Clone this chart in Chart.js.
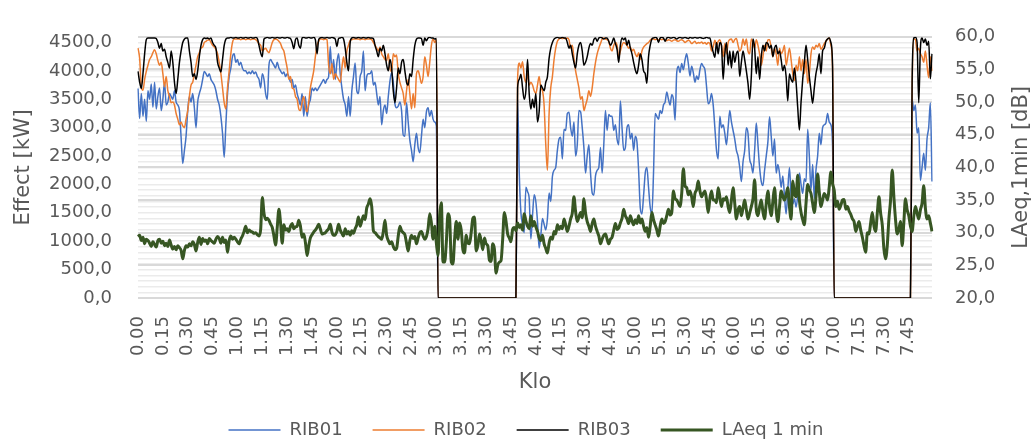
<!DOCTYPE html>
<html>
<head>
<meta charset="utf-8">
<title>Effect och LAeq</title>
<script src="https://cdn.jsdelivr.net/npm/chart.js@4.4.1/dist/chart.umd.min.js"></script>
<style>
  html, body { margin: 0; padding: 0; background: #ffffff; }
  #wrap { width: 1034px; height: 439px; position: relative; }
</style>
</head>
<body>
<div id="wrap"><canvas id="chart"></canvas></div>
<script>
// Time axis labels shown every 15 minutes
const tickLabels = ['0.00','0.15','0.30','0.45','1.00','1.15','1.30','1.45',
  '2.00','2.15','2.30','2.45','3.00','3.15','3.30','3.45',
  '4.00','4.15','4.30','4.45','5.00','5.15','5.30','5.45',
  '6.00','6.15','6.30','6.45','7.00','7.15','7.30','7.45'];

// One category per minute, 0.00 - 7.59
const categories = [];
for (let h = 0; h < 8; h++) {
  for (let m = 0; m < 60; m++) categories.push(h + '.' + String(m).padStart(2, '0'));
}

// Effect per minute [kW], one row = 15 minutes
const rib01 = [
  3690,3160,3600,3200,3500,3110,3650,3500,3770,3360,3800,3330,3550,3700,3300,
  3500,3800,3400,3450,3600,3550,3500,3650,3450,3400,3300,2830,2370,2600,2850,
  3300,3550,3450,3600,3350,3000,3450,3600,3700,3850,3990,3950,3900,3950,3850,
  3800,3750,3650,3500,3400,3200,2900,2480,3050,3600,3900,4050,4250,4300,4150,
  4200,4100,4150,4050,4000,4000,3950,3980,3950,4000,3950,3980,3900,3850,3700,
  3950,3850,3600,3500,4100,4200,4150,4100,4050,4150,4050,4000,3950,3980,3900,
  3950,3900,3800,3850,3700,3750,3600,3500,3400,3600,3200,3550,3200,3400,3500,
  3700,3650,3700,3650,3700,3750,3800,3850,3780,3850,3900,4430,3950,4200,3850,
  4150,4300,3950,3700,3500,3400,3200,3550,3200,3650,3900,4140,3650,3600,3900,
  4000,4350,3650,3900,3950,3950,4000,3750,3800,3600,3400,3550,3050,3300,3400,
  3250,3550,3820,3970,3800,3420,3350,3380,3450,3300,2870,2850,3440,3100,2780,
  2600,2400,2700,2900,2650,2560,2850,3150,3000,3280,3350,3200,3300,3150,3100,
  3030,0,0,0,0,0,0,0,0,0,0,0,0,0,0,
  0,0,0,0,0,0,0,0,0,0,0,0,0,0,0,
  0,0,0,0,0,0,0,0,0,0,0,0,0,0,0,
  0,0,0,0,3500,2200,1500,1300,1150,1950,1870,1750,1040,1450,1820,
  1700,1350,880,1100,1400,1300,1200,1400,1850,1700,2140,2250,2300,2600,2800,
  2830,2450,2970,2950,3250,3270,3000,2850,3100,2500,2700,3300,3280,3000,2650,
  2200,2500,2700,2200,1850,1810,2150,2250,2300,2650,2200,2700,3300,2950,3230,
  3200,3200,2950,3050,2800,2700,3470,3000,2600,2650,3000,3050,2800,2900,2600,
  2850,2750,2250,1590,1480,1800,2200,2300,1950,1600,1480,2200,3250,3200,3150,
  3300,3250,3400,3450,3630,3500,3400,3580,3500,3130,3970,4080,3970,4130,4020,
  4190,4300,4130,3910,4080,3970,3800,3910,3850,4020,4130,4080,4020,3720,3420,
  3460,3600,3400,3000,2600,2450,3200,3000,3050,2900,2700,3000,3300,3100,2950,
  2800,2600,2500,2300,2050,2400,2600,3000,2900,2450,2350,2200,2600,3080,2700,
  2300,2050,1980,2250,2500,2750,3190,2850,2500,2800,2200,2350,2200,1950,2150,
  1800,1480,1900,2300,1800,1650,1750,1600,1800,2200,2000,1840,2100,2050,2970,
  2500,1900,2350,1750,2250,2500,2900,2700,3000,3050,3080,3250,3100,3050,2700,
  0,0,0,0,0,0,0,0,0,0,0,0,0,0,0,
  0,0,0,0,0,0,0,0,0,0,0,0,0,0,0,
  0,0,0,0,0,0,0,0,0,0,0,0,0,0,0,
  0,0,3500,3300,3400,2900,3000,2070,2300,2550,2250,2800,3000,3440,2050
];

const rib02 = [
  4400,4220,3720,3660,3850,3990,4100,4200,4250,4320,4370,4300,4180,4100,4150,
  3950,3720,3900,3650,3550,3440,3450,3400,3250,3150,3050,3100,3030,3000,3150,
  3300,3550,3750,3800,3950,4100,4250,4320,4400,4420,4500,4520,4540,4550,4500,
  4450,4420,4380,4300,4150,3950,3700,3440,3330,3700,4000,4300,4500,4560,4560,
  4560,4560,4550,4560,4560,4550,4560,4560,4550,4560,4560,4550,4520,4480,4450,
  4350,4380,4400,4350,4320,4400,4500,4550,4560,4550,4520,4480,4400,4350,4200,
  4050,3850,3900,3700,3680,3550,3500,3330,3300,3450,3550,3350,3280,3450,3700,
  3850,4000,4250,4450,4520,4560,4560,4550,4560,4550,4100,3950,4130,3850,3950,
  3900,3850,3800,4050,4250,4050,4350,4450,4540,4550,4560,4560,4560,4560,4550,
  4560,4560,4550,4560,4560,4560,4550,4500,4450,4400,4350,4420,4300,4250,4200,
  4180,4300,4050,3990,4300,4250,4280,3950,3800,3700,3600,3400,3650,3850,3600,
  3330,3600,3350,3950,4000,3900,3780,3900,4250,4100,3900,4150,4450,4560,4500,
  4550,0,0,0,0,0,0,0,0,0,0,0,0,0,0,
  0,0,0,0,0,0,0,0,0,0,0,0,0,0,0,
  0,0,0,0,0,0,0,0,0,0,0,0,0,0,0,
  0,0,0,0,3850,4140,4050,4160,3900,3800,3950,3750,3800,3750,3650,
  3600,3750,3900,3700,3650,3390,2700,2250,3250,3700,3900,4200,4400,4520,4560,
  4580,4570,4580,4560,4580,4550,4400,4450,4220,4000,3850,3700,3500,3550,3300,
  3400,3500,3650,3550,3700,3950,4150,4300,4400,4480,4560,4580,4560,4550,4520,
  4400,4350,4450,4500,4450,4250,4350,4450,4500,4480,4450,4400,4420,4350,4380,
  4300,4250,4320,4200,4350,4420,4450,4480,4500,4540,4560,4560,4550,4560,4540,
  4560,4550,4560,4540,4530,4550,4540,4520,4540,4550,4530,4520,4540,4550,4530,
  4500,4520,4540,4520,4480,4500,4520,4480,4500,4490,4510,4480,4500,4470,4500,
  4480,4350,4420,4540,4450,4520,4550,4450,4250,4480,4300,4500,4550,4560,4500,
  4550,4570,4450,4350,4400,4560,4450,4560,4350,4300,4560,4500,4400,4550,4450,
  4300,4100,4250,4450,4350,4550,4550,4400,4250,4400,4300,4100,4400,4300,4350,
  4450,4100,4250,4400,4200,3950,3830,4100,4000,4250,4000,4200,3950,4200,3780,
  3950,4300,4420,4380,4450,4420,4480,4380,4420,4480,4520,4560,4580,4450,4050,
  0,0,0,0,0,0,0,0,0,0,0,0,0,0,0,
  0,0,0,0,0,0,0,0,0,0,0,0,0,0,0,
  0,0,0,0,0,0,0,0,0,0,0,0,0,0,0,
  0,0,3600,4560,4550,4350,4400,4300,4250,4150,4350,4100,3880,4250,4000
];

const rib03 = [
  3990,3800,3690,3950,4300,4550,4580,4580,4580,4580,4580,4570,4500,4400,4480,
  4350,4380,4250,4150,4050,4350,4150,3800,3600,3850,4150,4350,4500,4560,4580,
  4580,4350,4150,3900,3950,3850,4000,4250,4450,4550,4580,4570,4580,4560,4580,
  4500,4450,4400,4150,4050,3980,4200,4450,4560,4580,4580,4590,4580,4580,4590,
  4580,4580,4590,4580,4580,4590,4580,4580,4590,4580,4580,4590,4570,4450,4320,
  4250,4560,4580,4590,4580,4580,4590,4580,4580,4590,4580,4580,4590,4580,4580,
  4590,4580,4570,4500,4390,4550,4580,4450,4400,4580,4590,4580,4580,4590,4580,
  4580,4590,4550,4300,4550,4580,4590,4580,4580,4590,4580,4580,4590,4580,4560,
  4430,4570,4580,4590,4560,4400,4150,4000,4500,4580,4590,4580,4580,4590,4580,
  4580,4590,4580,4580,4590,4580,4580,4570,4450,4350,4250,4400,4350,4450,4300,
  4100,4000,4200,4050,3650,3440,3700,4050,3950,4150,4200,4000,3800,3750,3950,
  3900,4200,4450,4560,4580,4580,4570,4450,4580,4530,4580,4590,4580,4580,4560,
  4570,0,0,0,0,0,0,0,0,0,0,0,0,0,0,
  0,0,0,0,0,0,0,0,0,0,0,0,0,0,0,
  0,0,0,0,0,0,0,0,0,0,0,0,0,0,0,
  0,0,0,0,3700,3850,3940,3700,3500,3650,4200,3600,3330,3500,3350,
  3600,3100,3280,3750,3700,3650,3800,3900,4220,4400,4500,4560,4580,4590,4580,
  4580,4590,4580,4580,4500,4400,4450,4300,4150,4050,4300,4450,4500,4350,4100,
  4150,4250,4400,4480,4450,4550,4580,4520,4580,4590,4580,4560,4580,4580,4520,
  4450,4500,4580,4480,4380,4150,4450,4580,4550,4580,4450,4540,4400,4300,4150,
  4020,3950,4100,4300,4200,4000,3950,3780,4250,4450,4560,4580,4590,4580,4500,
  4580,4590,4580,4520,4580,4590,4580,4580,4590,4580,4560,4580,4590,4580,4580,
  4590,4580,4570,4590,4580,4580,4590,4580,4580,4590,4580,4570,4580,4590,4580,
  4580,4450,4330,4240,4500,4300,4500,4450,3850,4300,4500,4100,4350,4050,4350,
  4150,4300,4350,3900,4150,4350,4200,4000,3780,3500,3900,4560,4400,3950,4250,
  3850,4250,4450,4350,4500,4480,4400,4450,4250,4400,4450,4300,4350,4200,4000,
  4100,3900,3470,3950,3850,3800,4050,3800,3350,2960,3450,3850,4150,4450,4200,
  3900,3650,3430,3700,3950,4100,4300,3950,4350,4400,4520,4560,4580,4500,4100,
  0,0,0,0,0,0,0,0,0,0,0,0,0,0,0,
  0,0,0,0,0,0,0,0,0,0,0,0,0,0,0,
  0,0,0,0,0,0,0,0,0,0,0,0,0,0,0,
  0,0,3800,4580,4590,4500,3440,4400,4580,4500,4560,4450,4520,3860,4300
];

// Sound level LAeq per minute [dB]
const laeq = [
  29.4,29.6,28.8,29.3,28.3,29.0,28.8,28.4,27.9,28.6,28.2,27.8,28.8,29.0,28.4,
  28.7,28.0,28.4,27.9,28.9,28.1,27.5,27.9,27.4,28.0,27.7,27.3,26.0,27.3,28.0,
  27.8,28.3,28.0,28.6,28.2,27.2,28.5,29.3,28.2,29.1,28.7,28.9,28.3,29.1,28.8,
  28.6,28.4,29.0,29.4,29.1,28.4,29.3,28.5,28.9,27.0,28.8,29.5,29.0,29.3,29.0,
  28.6,28.3,29.0,29.5,30.2,31.0,30.0,30.4,30.2,30.1,29.9,30.0,29.7,29.5,30.5,
  35.4,33.0,32.0,32.2,31.9,31.3,30.8,29.5,28.1,30.8,33.6,31.5,28.4,31.2,30.4,
  30.6,30.2,31.0,31.4,30.6,30.9,31.0,31.9,31.0,29.3,29.8,28.5,26.5,28.0,29.2,
  29.7,30.1,30.4,30.8,31.3,30.6,29.8,29.9,30.0,30.3,30.6,31.3,30.1,29.6,29.7,
  30.2,31.3,30.4,29.9,29.5,30.6,29.8,30.2,29.6,30.3,29.9,30.6,31.2,32.4,31.0,
  31.8,32.6,32.0,33.8,34.4,35.2,34.0,30.3,30.0,29.7,29.4,29.2,29.0,30.2,31.9,
  29.6,28.8,28.3,28.6,27.9,27.4,27.6,29.5,31.0,30.3,30.0,29.7,28.4,27.2,28.8,
  29.6,29.1,29.4,28.3,29.2,30.0,30.2,29.5,29.0,29.4,30.6,32.9,31.5,29.0,31.0,
  28.4,26.5,32.7,34.6,25.5,25.5,28.5,32.9,32.2,25.5,25.2,29.0,31.7,29.0,31.5,
  30.4,27.4,26.9,29.6,28.4,28.3,30.0,32.2,32.4,27.2,28.0,29.8,28.8,27.4,29.2,
  28.3,28.0,25.8,25.6,28.3,27.5,23.8,25.0,25.5,25.7,29.0,33.1,31.8,29.8,29.2,
  28.6,30.5,30.8,30.3,31.5,30.8,31.2,30.4,32.9,31.8,31.0,30.6,32.6,31.0,31.7,
  30.9,30.2,29.2,28.8,29.6,28.3,27.6,26.9,28.4,29.3,29.0,30.2,29.8,31.2,30.5,
  31.0,30.6,32.1,31.2,30.2,31.0,32.1,33.0,35.5,33.2,31.7,32.4,33.1,32.3,35.2,
  33.0,31.7,31.0,30.2,31.4,32.1,31.0,30.2,29.5,28.3,29.0,29.6,29.8,29.0,28.3,
  29.0,29.3,30.4,31.4,30.5,30.7,31.5,32.2,33.6,32.6,32.1,31.4,32.6,31.8,31.2,
  32.0,31.4,32.6,31.5,32.1,31.0,30.2,30.8,29.3,31.0,33.1,32.0,31.2,30.4,29.5,
  31.0,32.1,31.4,31.7,32.6,33.6,32.7,33.1,36.4,35.2,35.0,34.5,34.0,36.0,39.8,
  37.2,36.9,35.8,36.4,35.5,34.0,36.0,36.6,37.9,36.4,35.5,36.0,36.4,35.0,33.1,
  35.2,36.4,35.0,35.0,34.6,36.9,35.5,34.0,35.2,35.0,35.5,34.0,33.1,35.0,36.9,
  34.5,32.1,33.5,34.0,32.6,33.8,35.0,33.5,32.1,33.0,34.0,35.2,38.1,33.5,32.6,
  34.0,35.0,33.2,32.1,34.5,36.4,34.0,32.6,34.8,36.9,33.5,31.7,34.0,36.4,35.6,
  35.0,35.8,36.9,34.0,32.1,37.9,36.0,35.5,38.8,35.0,33.1,32.0,31.2,34.5,37.4,
  36.6,36.0,34.5,33.1,35.5,39.0,36.2,34.0,35.0,36.0,35.6,35.0,37.0,39.3,37.5,
  36.5,34.0,34.8,33.6,34.2,35.0,35.1,33.6,34.0,33.3,32.8,32.1,31.7,30.2,31.0,
  31.7,30.4,29.3,28.0,27.0,30.0,29.8,31.5,33.1,31.0,30.2,33.0,35.5,33.0,31.2,
  27.5,26.0,28.0,32.1,35.0,39.6,35.5,32.0,29.8,30.5,31.7,28.0,31.5,35.2,33.5,
  32.6,31.0,30.2,32.5,34.0,33.0,32.1,33.5,34.5,37.2,33.8,32.1,32.6,31.5,30.2
];

const textColor = '#595959';
Chart.defaults.font.family = "'DejaVu Sans', sans-serif";
Chart.defaults.color = textColor;

const decimalComma = v => Number(v).toFixed(1).replace('.', ',');

// Title of the secondary axis, read bottom-to-top like the primary one
const rightAxisTitle = {
  id: 'rightAxisTitle',
  afterDraw(chart) {
    const { ctx, chartArea } = chart;
    const scale = chart.scales.y2;
    ctx.save();
    ctx.translate(scale.right - 12, (chartArea.top + chartArea.bottom) / 2);
    ctx.rotate(-Math.PI / 2);
    ctx.font = "21px 'DejaVu Sans', sans-serif";
    ctx.fillStyle = textColor;
    ctx.textAlign = 'center';
    ctx.textBaseline = 'middle';
    ctx.fillText('LAeq,1min [dB]', 0, 0);
    ctx.restore();
  }
};

const lineStyle = { pointRadius: 0, pointHoverRadius: 0, fill: false,
  cubicInterpolationMode: 'monotone', borderJoinStyle: 'round' };

new Chart(document.getElementById('chart'), {
  type: 'line',
  data: {
    labels: categories,
    datasets: [
      { label: 'RIB01', data: rib01, borderColor: '#4472C4', backgroundColor: '#4472C4',
        borderWidth: 1.5, yAxisID: 'y', order: 3, ...lineStyle },
      { label: 'RIB02', data: rib02, borderColor: '#ED7D31', backgroundColor: '#ED7D31',
        borderWidth: 1.5, yAxisID: 'y', order: 2, ...lineStyle },
      { label: 'RIB03', data: rib03, borderColor: '#000000', backgroundColor: '#000000',
        borderWidth: 1.5, yAxisID: 'y', order: 1, ...lineStyle },
      { label: 'LAeq 1 min', data: laeq, borderColor: '#375623', backgroundColor: '#375623',
        borderWidth: 3, yAxisID: 'y2', order: 0, ...lineStyle }
    ]
  },
  options: {
    responsive: true,
    maintainAspectRatio: false,
    animation: false,
    events: [],
    layout: { padding: { left: 18, top: 20, right: 0, bottom: 0 } },
    plugins: {
      tooltip: { enabled: false },
      legend: {
        position: 'bottom',
        maxHeight: 48,
        labels: {
          usePointStyle: true,
          pointStyle: 'line',
          pointStyleWidth: 52,
          padding: 30,
          color: textColor,
          font: { size: 18 },
          sort: (a, b) => a.datasetIndex - b.datasetIndex
        }
      }
    },
    scales: {
      x: {
        type: 'category',
        grid: { display: false, drawTicks: false },
        border: { display: false },
        ticks: {
          autoSkip: false, minRotation: 90, maxRotation: 90, padding: 18,
          color: textColor, font: { size: 18 },
          callback: (value, index) => index % 15 === 0 ? tickLabels[index / 15] : ''
        },
        title: { display: true, text: 'Klo', color: textColor, font: { size: 21 },
          padding: { top: 0, bottom: -4.6 } },
        afterFit: scale => { scale.height = 93; }
      },
      y: {
        position: 'left',
        min: 0, max: 4600,
        grid: { color: '#ebebeb', lineWidth: 1.5, drawTicks: false },
        border: { display: false },
        ticks: {
          stepSize: 100, autoSkip: false, includeBounds: false, padding: 26,
          color: textColor, font: { size: 18 },
          callback: value => value % 500 === 0 ? decimalComma(value) : ''
        },
        title: { display: true, text: 'Effect [kW]', color: textColor, font: { size: 21 },
          padding: { top: -7.3, bottom: 0 } },
        afterFit: scale => { scale.width = 120; }
      },
      y2: {
        position: 'right',
        min: 20, max: 60,
        grid: { color: '#d9d9d9', lineWidth: 2, drawTicks: false },
        border: { display: false },
        ticks: {
          stepSize: 5, autoSkip: false, padding: 23,
          color: textColor, font: { size: 18 },
          callback: value => decimalComma(value)
        },
        afterFit: scale => { scale.width = 102; }
      }
    }
  },
  plugins: [rightAxisTitle]
});
</script>
</body>
</html>
